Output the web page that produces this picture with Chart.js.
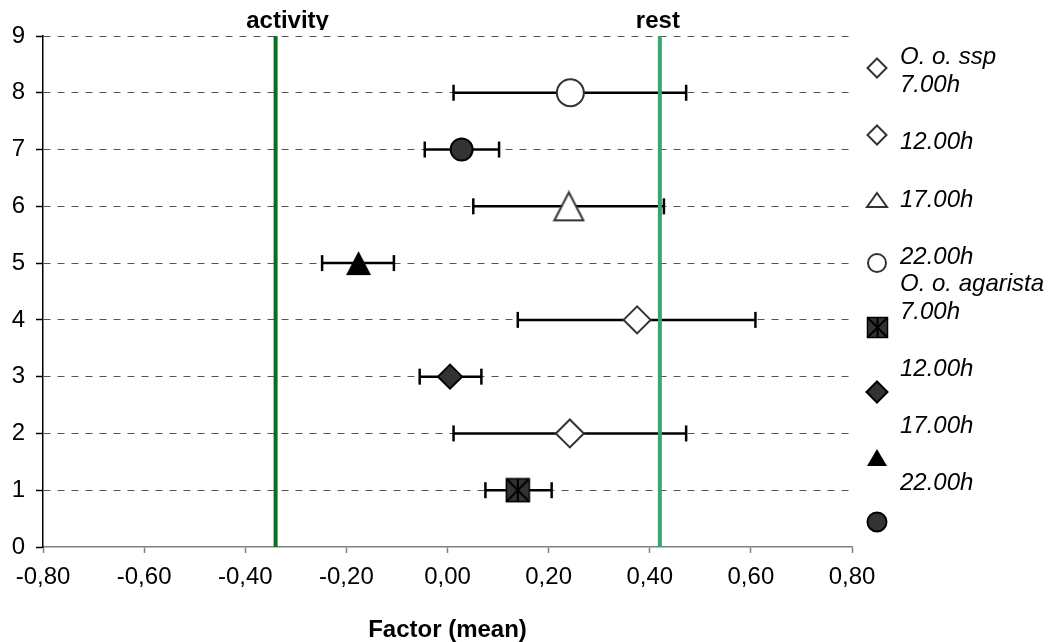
<!DOCTYPE html>
<html lang="en">
<head>
<meta charset="UTF-8">
<title>Factor (mean)</title>
<script src="https://cdn.jsdelivr.net/npm/chart.js"></script>
<style>
  body { margin: 0; background: #fff; }
  #wrap { position: relative; width: 1054px; height: 642px; }
</style>
</head>
<body>
<div id="wrap"><canvas id="factorChart"></canvas></div>
<script>
// rows counted from the bottom of the plot
const rows = [1, 2, 3, 4, 5, 6, 7, 8];
const means = [0.139, 0.242, 0.005, 0.375, -0.176, 0.240, 0.028, 0.243];
const lowers = [0.075, 0.012, -0.055, 0.139, -0.248, 0.051, -0.045, 0.012];
const uppers = [0.206, 0.472, 0.067, 0.609, -0.106, 0.428, 0.102, 0.472];

// reference lines
const refValues = [-0.34, 0.42];
const refLabels = ['activity', 'rest'];

const legendLabels = ['O. o. ssp', '7.00h', '12.00h', '17.00h', '22.00h',
                      'O. o. agarista', '7.00h', '12.00h', '17.00h', '22.00h'];

const FONT = '"Liberation Sans", Arial, sans-serif';
const DARK = '#333333';

function makeCanvas(w, h, draw) {
  const c = document.createElement('canvas');
  c.width = w;
  c.height = h;
  draw(c.getContext('2d'), w, h);
  return c;
}

function starSquare(s) {
  return makeCanvas(s + 3, s + 3, (g) => {
    const a = 1.5, b = s + 1.5;
    g.fillStyle = DARK;
    g.fillRect(a, a, s, s);
    g.strokeStyle = '#000';
    g.lineWidth = 1.5;
    g.strokeRect(a, a, s, s);
    g.lineWidth = 2;
    g.beginPath();
    g.moveTo(a, a); g.lineTo(b, b);
    g.moveTo(b, a); g.lineTo(a, b);
    g.moveTo((a + b) / 2, a); g.lineTo((a + b) / 2, b);
    g.stroke();
  });
}

function triangle(w, h, filled) {
  return makeCanvas(w + 4, h + 4, (g) => {
    g.beginPath();
    g.moveTo(2 + w / 2, 2);
    g.lineTo(2 + w, 2 + h);
    g.lineTo(2, 2 + h);
    g.closePath();
    if (filled) {
      g.fillStyle = '#000';
      g.fill();
    } else {
      g.fillStyle = '#fff';
      g.fill();
      g.strokeStyle = DARK;
      g.lineWidth = 2;
      g.stroke();
    }
  });
}

// marker look per row
const markerStyles = [starSquare(23), 'rectRot', 'rectRot', 'rectRot',
                      triangle(25, 24, true), triangle(29, 28, false), 'circle', 'circle'];
const markerRadius = [14, 14, 12, 13.5, 14, 16, 11, 13.5];
const markerFill = [DARK, '#fff', DARK, '#fff', '#000', '#fff', DARK, '#fff'];
const markerLine = ['#000', DARK, '#000', DARK, '#000', DARK, '#000', DARK];

const errorSets = rows.map((r, i) => ({
  data: [{x: lowers[i], y: r}, {x: uppers[i], y: r}],
  showLine: true,
  borderColor: '#000',
  borderWidth: 2.5,
  pointStyle: 'line',
  pointRotation: 90,
  pointRadius: 8,
  pointBorderColor: '#000',
  pointBorderWidth: 2.5,
  order: 3
}));

const refColors = ['#0e6b22', '#3aa66b'];
const refSets = refValues.map((v, i) => ({
  data: [{x: v, y: 0}, {x: v, y: 9}],
  showLine: true,
  borderColor: refColors[i],
  borderWidth: 4,
  pointRadius: 0,
  order: 2
}));

const meanSet = {
  data: rows.map((r, i) => ({x: means[i], y: r})),
  showLine: false,
  pointStyle: markerStyles,
  pointRadius: markerRadius,
  pointBackgroundColor: markerFill,
  pointBorderColor: markerLine,
  pointBorderWidth: 2,
  order: 1
};

// legend markers (small versions)
const legendMarkers = [
  {style: 'diamond', r: 9.5, fill: '#fff', line: DARK},
  {style: 'diamond', r: 9.5, fill: '#fff', line: DARK},
  {img: triangle(20, 14, false)},
  {style: 'circle', r: 9, fill: '#fff', line: DARK},
  {img: starSquare(20)},
  {style: 'diamond', r: 10.5, fill: DARK, line: '#000'},
  {img: triangle(20, 17, true)},
  {style: 'circle', r: 9.5, fill: DARK, line: '#000'}
];
const legendTextY = [57, 85, 142, 200, 257, 284, 312, 369, 426, 483];
const legendMarkY = [68, 135, 200, 263, 327, 392, 457, 522];

const overlay = {
  id: 'overlay',
  afterDraw(chart) {
    const ctx = chart.ctx;
    const xs = chart.scales.x;
    const shift = [12, -2];

    ctx.save();
    ctx.beginPath();
    ctx.rect(0, 0, chart.width, 30);
    ctx.clip();
    ctx.font = 'bold 24px ' + FONT;
    ctx.fillStyle = '#000';
    ctx.textAlign = 'center';
    ctx.textBaseline = 'alphabetic';
    refLabels.forEach((t, i) => {
      ctx.fillText(t, xs.getPixelForValue(refValues[i]) + shift[i], 28);
    });
    ctx.restore();

    ctx.save();
    ctx.font = 'italic 24px ' + FONT;
    ctx.fillStyle = '#000';
    ctx.textAlign = 'left';
    ctx.textBaseline = 'middle';
    legendLabels.forEach((t, i) => ctx.fillText(t, 900, legendTextY[i]));

    const mx = 877;
    legendMarkers.forEach((m, i) => {
      const my = legendMarkY[i];
      if (m.img) {
        ctx.drawImage(m.img, Math.round(mx - m.img.width / 2), Math.round(my - m.img.height / 2));
        return;
      }
      ctx.beginPath();
      if (m.style === 'circle') {
        ctx.arc(mx, my, m.r, 0, Math.PI * 2);
      } else {
        ctx.moveTo(mx, my - m.r);
        ctx.lineTo(mx + m.r, my);
        ctx.lineTo(mx, my + m.r);
        ctx.lineTo(mx - m.r, my);
        ctx.closePath();
      }
      ctx.fillStyle = m.fill;
      ctx.fill();
      ctx.strokeStyle = m.line;
      ctx.lineWidth = 2;
      ctx.stroke();
    });
    ctx.restore();
  }
};

new Chart(document.getElementById('factorChart'), {
  type: 'scatter',
  data: {
    datasets: [meanSet, ...refSets, ...errorSets]
  },
  options: {
    responsive: true,
    maintainAspectRatio: false,
    animation: false,
    layout: { padding: { top: 36, right: 202, bottom: 0, left: 0 } },
    plugins: {
      legend: { display: false },
      tooltip: { enabled: false }
    },
    scales: {
      x: {
        type: 'linear',
        min: -0.8,
        max: 0.8,
        afterFit: (s) => { s.height = 95; },
        ticks: {
          stepSize: 0.2,
          padding: 10,
          color: '#000',
          font: { family: FONT, size: 24 },
          callback: (v) => (Math.abs(v) < 1e-9 ? 0 : v).toFixed(2).replace('.', ',')
        },
        grid: {
          drawOnChartArea: false,
          drawTicks: true,
          tickLength: 6,
          tickColor: '#808080',
          tickWidth: 1.5
        },
        border: { color: '#808080', width: 1.5 },
        title: {
          display: true,
          text: 'Factor (mean)',
          color: '#000',
          font: { family: FONT, size: 24, weight: 'bold', lineHeight: 1 },
          padding: { top: 0, bottom: 0 }
        }
      },
      y: {
        type: 'linear',
        min: 0,
        max: 9,
        afterFit: (s) => { s.width = 43; },
        ticks: {
          stepSize: 1,
          padding: 11,
          color: '#000',
          font: { family: FONT, size: 24 }
        },
        grid: {
          color: (c) => (c.tick && c.tick.value === 0 ? 'rgba(0,0,0,0)' : '#555'),
          lineWidth: 1,
          tickLength: 7,
          tickColor: '#000',
          tickWidth: 1.5
        },
        border: { color: '#000', width: 1.5, dash: [7, 7] }
      }
    }
  },
  plugins: [overlay]
});
</script>
</body>
</html>
